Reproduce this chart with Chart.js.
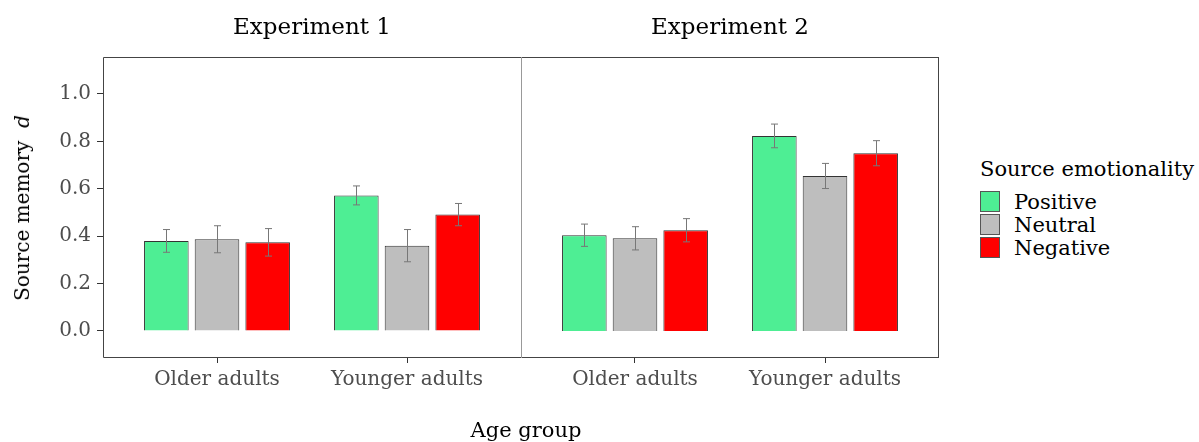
<!DOCTYPE html>
<html>
<head>
<meta charset="utf-8">
<script src="https://cdn.jsdelivr.net/npm/chart.js@4/dist/chart.umd.min.js"></script>
<style>
  body { margin: 0; background: #fff; width: 1199px; height: 442px; overflow: hidden; position: relative; font-family: "DejaVu Serif", serif; }
  canvas { position: absolute; top: 0; }
  #panel1 { left: 0; }
  #panel2 { left: 516px; }
  #ytitle { position: absolute; left: 22px; top: 208px; transform: translate(-50%, -50%) rotate(-90deg); font-size: 20px; white-space: nowrap; color: #000; }
  #xtitle { position: absolute; left: 526px; top: 430px; transform: translate(-50%, -50%); font-size: 21px; white-space: nowrap; color: #000; }
  #legend { position: absolute; left: 980px; top: 155px; color: #000; }
  #legend .ttl { font-size: 21px; height: 28px; line-height: 28px; margin-bottom: 7px; }
  #legend .row { height: 23px; display: flex; align-items: center; font-size: 21px; }
  #legend .key { width: 20px; height: 21px; box-sizing: border-box; border: 1px solid #555; margin-right: 14px; }
</style>
</head>
<body>
<canvas id="panel1" width="526" height="442"></canvas>
<canvas id="panel2" width="428" height="442"></canvas>
<div id="ytitle">Source memory &nbsp;<i>d</i></div>
<div id="xtitle">Age group</div>
<div id="legend"></div>
<script>
// kategorie a serie
const ageGroups = ['Older adults', 'Younger adults'];
const emotions = ['Positive', 'Neutral', 'Negative'];
const emotionColors = ['#4eee94', '#bebebe', '#ff0000'];
const yTicks = [0, 0.2, 0.4, 0.6, 0.8, 1.0];

// Experiment 1 (priemery a chyby)
const exp1Positive = [0.380, 0.572];
const exp1Neutral = [0.387, 0.360];
const exp1Negative = [0.374, 0.491];
const exp1PositiveSe = [0.048, 0.040];
const exp1NeutralSe = [0.057, 0.068];
const exp1NegativeSe = [0.058, 0.047];

// Experiment 2
const exp2Positive = [0.404, 0.823];
const exp2Neutral = [0.391, 0.654];
const exp2Negative = [0.425, 0.750];
const exp2PositiveSe = [0.047, 0.050];
const exp2NeutralSe = [0.049, 0.053];
const exp2NegativeSe = [0.049, 0.053];

const fontName = '"DejaVu Serif"';

// ramik panelu + nadpis nad panelom
const panelStrip = {
  id: 'panelStrip',
  afterDraw(chart, args, opts) {
    const { ctx, chartArea: a } = chart;
    const l = Math.round(a.left) + 0.5, r = Math.round(a.right) - 0.5;
    const t = Math.round(a.top) + 0.5, b = Math.round(a.bottom) - 0.5;
    ctx.save();
    ctx.lineWidth = 1;
    ctx.strokeStyle = '#444';
    ctx.beginPath();
    ctx.moveTo(l, t); ctx.lineTo(r + 0.5, t);
    ctx.moveTo(l, b); ctx.lineTo(r + 0.5, b);
    if (opts.rightEdge) { ctx.moveTo(r, t); ctx.lineTo(r, b); }
    ctx.stroke();
    // lava hrana (v druhom paneli svetlejsia)
    ctx.strokeStyle = opts.leftColor;
    ctx.beginPath();
    ctx.moveTo(l, t); ctx.lineTo(l, b);
    ctx.stroke();
    ctx.fillStyle = '#000';
    ctx.font = '23px ' + fontName;
    ctx.textAlign = 'center';
    ctx.textBaseline = 'middle';
    ctx.fillText(opts.text, (a.left + a.right) / 2, a.top - 29);
    ctx.restore();
  }
};

// chybove useky
const errorBars = {
  id: 'errorBars',
  afterDatasetsDraw(chart) {
    const { ctx } = chart;
    const yScale = chart.scales.y;
    ctx.save();
    ctx.strokeStyle = '#777';
    ctx.lineWidth = 1;
    chart.data.datasets.forEach((ds, i) => {
      chart.getDatasetMeta(i).data.forEach((bar, j) => {
        const m = ds.data[j].y;
        const top = yScale.getPixelForValue(m + ds.se[j]);
        const bot = yScale.getPixelForValue(m - ds.se[j]);
        const x = Math.round(bar.x) + 0.5;
        ctx.beginPath();
        ctx.moveTo(x, top); ctx.lineTo(x, bot);
        ctx.moveTo(x - 3.5, top); ctx.lineTo(x + 3.5, top);
        ctx.moveTo(x - 3.5, bot); ctx.lineTo(x + 3.5, bot);
        ctx.stroke();
      });
    });
    ctx.restore();
  }
};

function toPoints(values) {
  return values.map((v, i) => ({ x: i + 1, y: v }));
}

function makePanel(canvasId, title, series, seSeries, showY) {
  const datasets = series.map((vals, k) => ({
    label: emotions[k],
    data: toPoints(vals),
    se: seSeries[k],
    backgroundColor: emotionColors[k],
    borderColor: '#333',
    borderWidth: 1,
    categoryPercentage: 0.8,
    barPercentage: 0.88
  }));

  return new Chart(document.getElementById(canvasId).getContext('2d'), {
    type: 'bar',
    data: { datasets: datasets },
    plugins: [panelStrip, errorBars],
    options: {
      responsive: false,
      animation: false,
      layout: { padding: { top: 57, left: showY ? 0 : 5, right: 5, bottom: 0 } },
      plugins: {
        legend: { display: false },
        tooltip: { enabled: false },
        panelStrip: {
          text: title,
          rightEdge: !showY,
          leftColor: showY ? '#444' : '#999'
        }
      },
      scales: {
        x: {
          type: 'linear',
          min: 0.4,
          max: 2.6,
          offset: false,
          afterBuildTicks: (scale) => { scale.ticks = ageGroups.map((g, i) => ({ value: i + 1 })); },
          afterFit: (scale) => { scale.height = 84; },
          grid: { offset: false, drawOnChartArea: false, drawTicks: true, tickLength: 5, color: '#333' },
          border: { display: false },
          ticks: {
            padding: 5,
            color: '#4d4d4d',
            font: { family: fontName, size: 20 },
            maxRotation: 0,
            autoSkip: false,
            callback: (v) => ageGroups[v - 1]
          }
        },
        y: {
          display: showY,
          min: -0.114,
          max: 1.156,
          afterBuildTicks: (scale) => { scale.ticks = yTicks.map(v => ({ value: v })); },
          afterFit: (scale) => { scale.width = showY ? 103 : 0; },
          grid: { drawOnChartArea: false, drawTicks: true, tickLength: 6, color: '#333' },
          border: { display: false },
          ticks: {
            padding: 6,
            color: '#4d4d4d',
            font: { family: fontName, size: 20 },
            callback: (v) => v.toFixed(1)
          }
        }
      }
    }
  });
}

makePanel('panel1', 'Experiment 1',
  [exp1Positive, exp1Neutral, exp1Negative],
  [exp1PositiveSe, exp1NeutralSe, exp1NegativeSe], true);
makePanel('panel2', 'Experiment 2',
  [exp2Positive, exp2Neutral, exp2Negative],
  [exp2PositiveSe, exp2NeutralSe, exp2NegativeSe], false);

// legenda
const legend = document.getElementById('legend');
legend.innerHTML = '<div class="ttl">Source emotionality</div>';
emotions.forEach((name, k) => {
  const row = document.createElement('div');
  row.className = 'row';
  row.innerHTML = `<span class="key" style="background:${emotionColors[k]}"></span><span>${name}</span>`;
  legend.appendChild(row);
});
</script>
</body>
</html>
